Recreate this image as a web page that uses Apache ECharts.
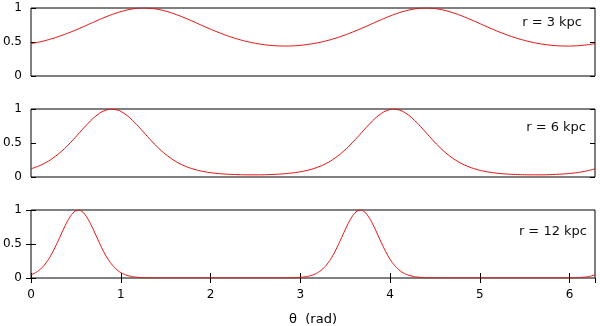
<!DOCTYPE html>
<html>
<head>
<meta charset="utf-8">
<script src="https://cdn.jsdelivr.net/npm/echarts@6/dist/echarts.min.js"></script>
<style>
  html, body { margin: 0; padding: 0; background: #fff; }
  #chart { width: 600px; height: 326px; }
</style>
</head>
<body>
<div id="chart"></div>
<script>
// theta samples (rad), 0 .. 2pi
const theta = [
    0, 0.098, 0.196, 0.295, 0.393, 0.491, 0.589, 0.687, 0.785, 0.884, 0.982, 1.080, 1.178, 1.276, 1.374, 1.473,
    1.571, 1.669, 1.767, 1.865, 1.963, 2.062, 2.160, 2.258, 2.356, 2.454, 2.553, 2.651, 2.749, 2.847, 2.945, 3.043,
    3.142, 3.240, 3.338, 3.436, 3.534, 3.632, 3.731, 3.829, 3.927, 4.025, 4.123, 4.222, 4.320, 4.418, 4.516, 4.614,
    4.712, 4.811, 4.909, 5.007, 5.105, 5.203, 5.301, 5.400, 5.498, 5.596, 5.694, 5.792, 5.890, 5.989, 6.087, 6.185,
    6.283
];

const r3 = [
    0.476, 0.501, 0.534, 0.574, 0.621, 0.672, 0.728, 0.786, 0.843, 0.895, 0.940, 0.974, 0.995, 1.000, 0.989, 0.964,
    0.926, 0.878, 0.824, 0.767, 0.709, 0.655, 0.605, 0.560, 0.523, 0.492, 0.469, 0.452, 0.443, 0.440, 0.445, 0.457,
    0.476, 0.501, 0.534, 0.574, 0.621, 0.672, 0.728, 0.786, 0.843, 0.895, 0.940, 0.974, 0.995, 1.000, 0.989, 0.964,
    0.926, 0.878, 0.824, 0.767, 0.709, 0.655, 0.605, 0.560, 0.523, 0.492, 0.469, 0.452, 0.443, 0.440, 0.445, 0.457,
    0.476
];

const r6 = [
    0.120, 0.168, 0.235, 0.327, 0.442, 0.579, 0.723, 0.857, 0.956, 0.999, 0.978, 0.895, 0.770, 0.627, 0.485, 0.362,
    0.263, 0.187, 0.134, 0.096, 0.071, 0.054, 0.043, 0.037, 0.033, 0.032, 0.032, 0.035, 0.041, 0.050, 0.065, 0.087,
    0.120, 0.168, 0.235, 0.327, 0.442, 0.579, 0.723, 0.857, 0.956, 0.999, 0.978, 0.895, 0.770, 0.627, 0.485, 0.362,
    0.263, 0.187, 0.134, 0.096, 0.071, 0.054, 0.043, 0.037, 0.033, 0.032, 0.032, 0.035, 0.041, 0.050, 0.065, 0.087,
    0.120
];

// r = 12 kpc is narrow, so it is sampled twice as densely around its peaks
const theta12 = [
    0, 0.049, 0.098, 0.147, 0.196, 0.245, 0.295, 0.344, 0.393, 0.442, 0.491, 0.540, 0.589, 0.638, 0.687, 0.736,
    0.785, 0.834, 0.884, 0.933, 0.982, 1.031, 1.080, 1.129, 1.178, 1.227, 1.276, 1.325, 1.374,
    1.473, 1.571, 1.669, 1.767, 1.865, 1.963, 2.062, 2.160, 2.258, 2.356, 2.454, 2.553, 2.651, 2.749,
    2.847, 2.896, 2.945, 2.994, 3.043, 3.093, 3.142, 3.191, 3.240, 3.289, 3.338, 3.387, 3.436, 3.485, 3.534, 3.583,
    3.632, 3.682, 3.731, 3.780, 3.829, 3.878, 3.927, 3.976, 4.025, 4.074, 4.123, 4.172, 4.222, 4.271, 4.320, 4.369,
    4.418, 4.467, 4.516,
    4.614, 4.712, 4.811, 4.909, 5.007, 5.105, 5.203, 5.301, 5.400, 5.498, 5.596, 5.694, 5.792, 5.890,
    5.989, 6.038, 6.087, 6.136, 6.185, 6.234, 6.283
];

const r12 = [
    0.046, 0.076, 0.121, 0.187, 0.276, 0.390, 0.524, 0.666, 0.803, 0.915, 0.984, 0.998, 0.954, 0.861, 0.733, 0.591,
    0.452, 0.327, 0.227, 0.150, 0.095, 0.058, 0.035, 0.020, 0.011, 0.006, 0.004, 0.002, 0.001,
    0.000, 0.000, 0.000, 0.000, 0.000, 0.000, 0.000, 0.000, 0.000, 0.000, 0.000, 0.000, 0.000, 0.000,
    0.001, 0.003, 0.005, 0.009, 0.015, 0.027, 0.046, 0.076, 0.121, 0.187, 0.276, 0.390, 0.524, 0.666, 0.803, 0.915,
    0.984, 0.998, 0.954, 0.861, 0.733, 0.591, 0.452, 0.327, 0.227, 0.150, 0.095, 0.058, 0.035, 0.020, 0.011, 0.006,
    0.004, 0.002, 0.001,
    0.000, 0.000, 0.000, 0.000, 0.000, 0.000, 0.000, 0.000, 0.000, 0.000, 0.000, 0.000, 0.000, 0.000,
    0.001, 0.003, 0.005, 0.009, 0.015, 0.027, 0.046
];

const panelLabels = ['r = 3 kpc', 'r = 6 kpc', 'r = 12 kpc'];
const xTicks = [0, 1, 2, 3, 4, 5, 6];
const yTicks = [0, 0.5, 1];

const FONT = 'DejaVu Sans';
const panelTops = [8, 109, 210];
const panelH = 68;

const chart = echarts.init(document.getElementById('chart'), null, { renderer: 'canvas' });

const grids = panelTops.map((t) => ({
    left: 31, right: 5, top: t, height: panelH,
    outerBoundsMode: 'none', containLabel: false,
    show: true, borderColor: '#000', borderWidth: 1, backgroundColor: 'transparent'
}));

const xAxes = [];
const yAxes = [];
panelTops.forEach((t, i) => {
    const last = i === 2;
    xAxes.push({
        type: 'value', gridIndex: i, min: 0, max: 6.283, interval: 1,
        axisLine: { show: false },
        axisTick: { show: last, inside: true, length: 5, lineStyle: { color: '#000' } },
        axisLabel: {
            show: last, showMaxLabel: false, margin: 11, color: '#000', fontFamily: FONT, fontSize: 12,
            formatter: (v) => xTicks.includes(v) ? String(v) : ''
        },
        splitLine: { show: false },
        name: last ? 'θ  (rad)' : '',
        nameLocation: 'middle', nameGap: 35,
        nameTextStyle: { color: '#000', fontFamily: FONT, fontSize: 13 }
    });
    if (last) {
        xAxes.push({
            type: 'value', gridIndex: i, position: 'top', min: 0, max: 6.283, interval: 1,
            axisLine: { show: false },
            axisTick: { show: true, inside: true, length: 5, lineStyle: { color: '#000' } },
            axisLabel: { show: false },
            splitLine: { show: false }
        });
    }
    yAxes.push({
        type: 'value', gridIndex: i, min: 0, max: 1, interval: 0.5,
        axisLine: { show: false },
        axisTick: { show: true, inside: true, length: 5, lineStyle: { color: '#000' } },
        axisLabel: {
            margin: 9, color: '#000', fontFamily: FONT, fontSize: 12,
            formatter: (v) => yTicks.includes(v) ? String(v) : ''
        },
        splitLine: { show: false }
    });
    yAxes.push({
        type: 'value', gridIndex: i, position: 'right', min: 0, max: 1, interval: 0.5,
        axisLine: { show: false },
        axisTick: { show: true, inside: true, length: 5, lineStyle: { color: '#000' } },
        axisLabel: { show: false },
        splitLine: { show: false }
    });
});

const seriesX = [theta, theta, theta12];
const seriesY = [r3, r6, r12];

chart.setOption({
    animation: false,
    backgroundColor: '#fff',
    grid: grids,
    xAxis: xAxes,
    yAxis: yAxes,
    series: seriesY.map((vals, i) => ({
        type: 'line',
        xAxisIndex: i,
        yAxisIndex: i * 2,
        showSymbol: false,
        smooth: 0.2,
        lineStyle: { color: '#e81010', width: 1 },
        data: seriesX[i].map((t, j) => [t, vals[j]])
    })),
    graphic: panelLabels.map((txt, i) => ({
        type: 'text',
        right: [18, 14, 13][i],
        top: panelTops[i] + [8, 12, 15][i],
        style: { text: txt, fill: '#111', font: '13px "DejaVu Sans"' }
    }))
});
</script>
</body>
</html>
